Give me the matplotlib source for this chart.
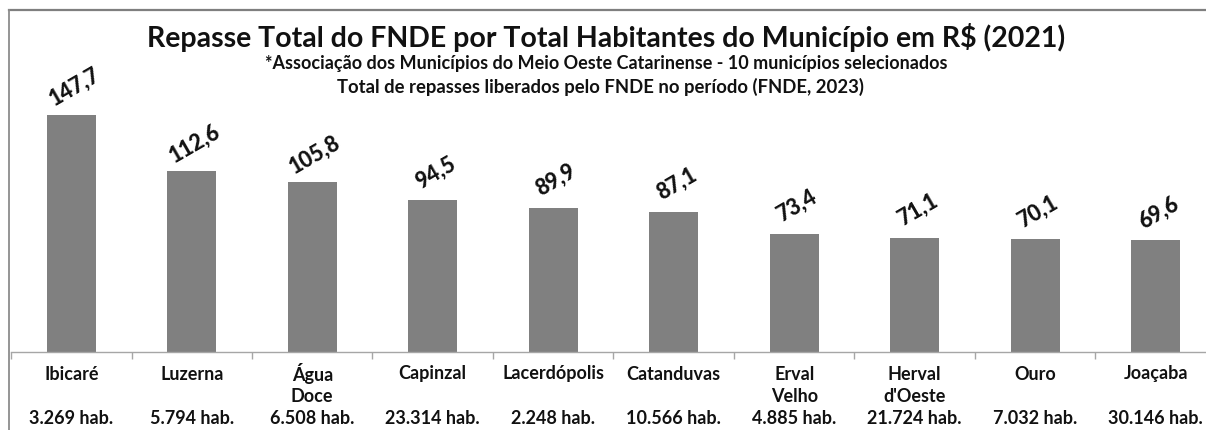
import matplotlib
matplotlib.use("Agg")
import matplotlib.pyplot as plt
from matplotlib.lines import Line2D

municipios = ["Ibicaré", "Luzerna", "Água\nDoce", "Capinzal", "Lacerdópolis",
              "Catanduvas", "Erval\nVelho", "Herval\nd'Oeste", "Ouro", "Joaçaba"]
habitantes = ["3.269", "5.794", "6.508", "23.314", "2.248",
              "10.566", "4.885", "21.724", "7.032", "30.146"]
repasse_per_capita = [147.7, 112.6, 105.8, 94.5, 89.9, 87.1, 73.4, 71.1, 70.1, 69.6]

titulo = "Repasse Total do FNDE por Total Habitantes do Município em R$ (2021)"
subtitulo1 = "*Associação dos Municípios do Meio Oeste Catarinense - 10 municípios selecionados"
subtitulo2 = "Total de repasses liberados pelo FNDE no período (FNDE, 2023)"

plt.rcParams["font.family"] = ["Lato", "DejaVu Sans"]

W, H = 1206, 430
fig = plt.figure(figsize=(W / 100, H / 100), dpi=100)
fig.patch.set_facecolor("white")

# plot area: runs past the right edge of the image
ax = fig.add_axes([11 / W, 78 / H, 1205 / W, 257 / H])
ax.set_xlim(0, len(municipios))
ax.set_ylim(0, 160)

xs = [i + 0.5 for i in range(len(municipios))]
ax.bar(xs, repasse_per_capita, width=0.41, color="#808080", zorder=2)

for x, v in zip(xs, repasse_per_capita):
    ax.annotate(f"{v:.1f}".replace(".", ","), (x, v), xytext=(2, 20),
                textcoords="offset points", ha="center", va="center",
                rotation=30, fontsize=15.5, fontweight="black", color="#111111")

# category labels below the axis line: name (one or two lines) and population
rotulo = dict(ha="center", va="center", fontsize=13, fontweight="bold",
              color="#111111", clip_on=False)
for x, nome, hab in zip(xs, municipios, habitantes):
    # x position of the category centre, in figure fraction
    fx = fig.transFigure.inverted().transform(ax.transData.transform((x, 0)))[0]
    partes = nome.split("\n")
    fig.text(fx, 1 - 374 / H, partes[0], **rotulo)
    if len(partes) > 1:
        fig.text(fx, 1 - 396 / H, partes[1], **rotulo)
    fig.text(fx, 1 - 419 / H, hab + " hab.", **rotulo)

ax.set_xticks(range(len(municipios) + 1))
ax.set_xticklabels([])
ax.tick_params(axis="x", direction="out", length=5, color="#A6A6A6", width=1)
ax.set_yticks([])
for lado in ["top", "right", "left"]:
    ax.spines[lado].set_visible(False)
ax.spines["bottom"].set_color("#A6A6A6")
ax.spines["bottom"].set_linewidth(1)

fig.text(606 / W, 1 - 37 / H, titulo, ha="center", va="center",
         fontsize=20.5, fontweight="bold", color="#111111")
fig.text(606 / W, 1 - 63 / H, subtitulo1, ha="center", va="center",
         fontsize=13, fontweight="bold", color="#111111")
fig.text(600 / W, 1 - 87 / H, subtitulo2, ha="center", va="center",
         fontsize=13.3, fontweight="bold", color="#111111")

# chart border (top and left edges visible)
fig.add_artist(Line2D([8.5 / W, 1.0], [1 - 10 / H, 1 - 10 / H], color="#7F7F7F", lw=1.6))
fig.add_artist(Line2D([8.5 / W, 8.5 / W], [0, 1 - 10 / H], color="#8C8C8C", lw=1.3))

fig.savefig("out.png", dpi=100)
